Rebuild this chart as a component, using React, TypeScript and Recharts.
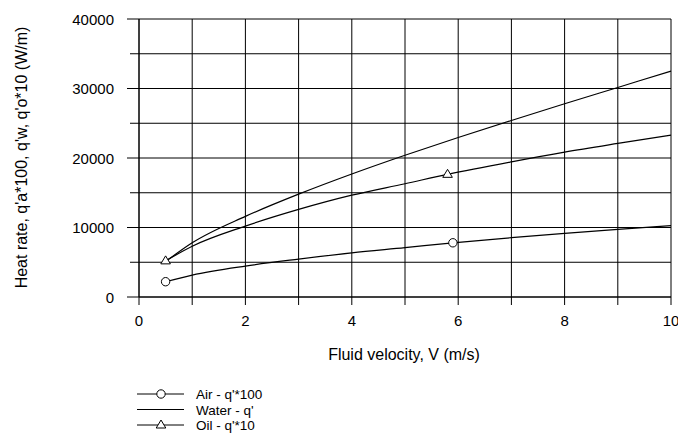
import React from 'react'
import { LineChart, Line, XAxis, YAxis, CartesianGrid } from 'recharts'

const FONT = "Arial, 'Liberation Sans', sans-serif"

// velocity (m/s) and heat rate (W/m)
const airV = [0.5, 1, 2, 3, 4, 5, 5.9, 7, 8, 9, 10]
const airQ = [2200, 3150, 4450, 5450, 6350, 7100, 7800, 8530, 9160, 9740, 10260]
const airMarks = [0, 6]

const waterV = [0.5, 1, 2, 3, 4, 5, 6, 7, 8, 9, 10]
const waterQ = [5100, 7800, 11600, 14800, 17700, 20400, 22950, 25400, 27800, 30150, 32500]

const oilV = [0.5, 1, 2, 3, 4, 5, 5.8, 7, 8, 9, 10]
const oilQ = [5200, 7300, 10200, 12600, 14650, 16300, 17650, 19450, 20850, 22100, 23300]
const oilMarks = [0, 6]

const xTicks = [0, 1, 2, 3, 4, 5, 6, 7, 8, 9, 10]
const yTicks = [0, 5000, 10000, 15000, 20000, 25000, 30000, 35000, 40000]

const legendItems = [
  { name: "Air - q'*100", marker: 'circle' },
  { name: "Water - q'", marker: 'none' },
  { name: "Oil - q'*10", marker: 'triangle' },
]

const build = (v: number[], q: number[], marks: number[] = []) =>
  v.map((x, i) => ({ v: x, q: q[i], mark: marks.includes(i) }))

const airData = build(airV, airQ, airMarks)
const waterData = build(waterV, waterQ)
const oilData = build(oilV, oilQ, oilMarks)

const Marker = ({ type, cx, cy }: { type: string; cx: number; cy: number }) => {
  if (type === 'circle') {
    return <circle cx={cx} cy={cy} r={4.2} fill="#fff" stroke="#000" strokeWidth={1} />
  }
  if (type === 'triangle') {
    return (
      <polygon
        points={`${cx},${cy - 5} ${cx - 4.8},${cy + 3} ${cx + 4.8},${cy + 3}`}
        fill="#fff"
        stroke="#000"
        strokeWidth={1}
      />
    )
  }
  return null
}

const dotFor = (type: string) => (props: any) => {
  const { cx, cy, payload, index } = props
  if (!payload.mark) return <g key={index} />
  return <Marker key={index} type={type} cx={cx} cy={cy} />
}

const XTick = ({ x, y, payload }: any) => {
  const show = payload.value % 2 === 0
  return (
    <g>
      <line x1={x} x2={x} y1={y} y2={y + 8} stroke="#000" />
      {show && (
        <text x={x} y={y + 29} textAnchor="middle" fontSize={15} fontFamily={FONT} fill="#000">
          {payload.value}
        </text>
      )}
    </g>
  )
}

const YTick = ({ x, y, payload }: any) => {
  const major = payload.value % 10000 === 0
  return (
    <g>
      <line x1={x - (major ? 12 : 9)} x2={x} y1={y} y2={y} stroke="#000" />
      {major && (
        <text x={x - 25} y={y + 5.5} textAnchor="end" fontSize={15} fontFamily={FONT} fill="#000">
          {payload.value}
        </text>
      )}
    </g>
  )
}

const YLabel = () => (
  <text
    x={27}
    y={157.5}
    transform="rotate(-90 27 157.5)"
    textAnchor="middle"
    fontSize={16}
    fontFamily={FONT}
    fill="#000"
  >
    Heat rate, q'a*100, q'w, q'o*10 (W/m)
  </text>
)

const XLabel = () => (
  <text x={404} y={360} textAnchor="middle" fontSize={16} fontFamily={FONT} fill="#000">
    Fluid velocity, V (m/s)
  </text>
)

export default function App() {
  return (
    <div style={{ position: 'absolute', left: 0, top: 0, width: 678, height: 436, background: '#fff' }}>
      <LineChart width={678} height={436} margin={{ top: 19, right: 7, bottom: 79, left: 0 }}>
        <CartesianGrid stroke="#000" strokeWidth={1} />
        <XAxis
          type="number"
          dataKey="v"
          domain={[0, 10]}
          ticks={xTicks}
          interval={0}
          height={60}
          tickSize={0}
          tickMargin={0}
          tick={<XTick />}
          axisLine={{ stroke: '#000' }}
          label={<XLabel />}
          allowDuplicatedCategory={false}
        />
        <YAxis
          type="number"
          dataKey="q"
          domain={[0, 40000]}
          ticks={yTicks}
          interval={0}
          width={139}
          tickSize={0}
          tickMargin={0}
          tick={<YTick />}
          axisLine={{ stroke: '#000' }}
          label={<YLabel />}
        />
        <Line
          data={waterData}
          dataKey="q"
          type="monotone"
          stroke="#000"
          strokeWidth={1.2}
          dot={false}
          isAnimationActive={false}
        />
        <Line
          data={oilData}
          dataKey="q"
          type="monotone"
          stroke="#000"
          strokeWidth={1.2}
          dot={dotFor('triangle')}
          isAnimationActive={false}
        />
        <Line
          data={airData}
          dataKey="q"
          type="monotone"
          stroke="#000"
          strokeWidth={1.2}
          dot={dotFor('circle')}
          isAnimationActive={false}
        />
      </LineChart>
      <svg
        width={678}
        height={436}
        style={{ position: 'absolute', left: 0, top: 0, pointerEvents: 'none' }}
      >
        {legendItems.map((item, i) => {
          const y = 394 + i * 15.5
          return (
            <g key={item.name}>
              <line x1={137} x2={184} y1={y} y2={y} stroke="#000" />
              <Marker type={item.marker} cx={161} cy={y} />
              <text x={196} y={y + 5} fontSize={13.5} fontFamily={FONT} fill="#000">
                {item.name}
              </text>
            </g>
          )
        })}
      </svg>
    </div>
  )
}
